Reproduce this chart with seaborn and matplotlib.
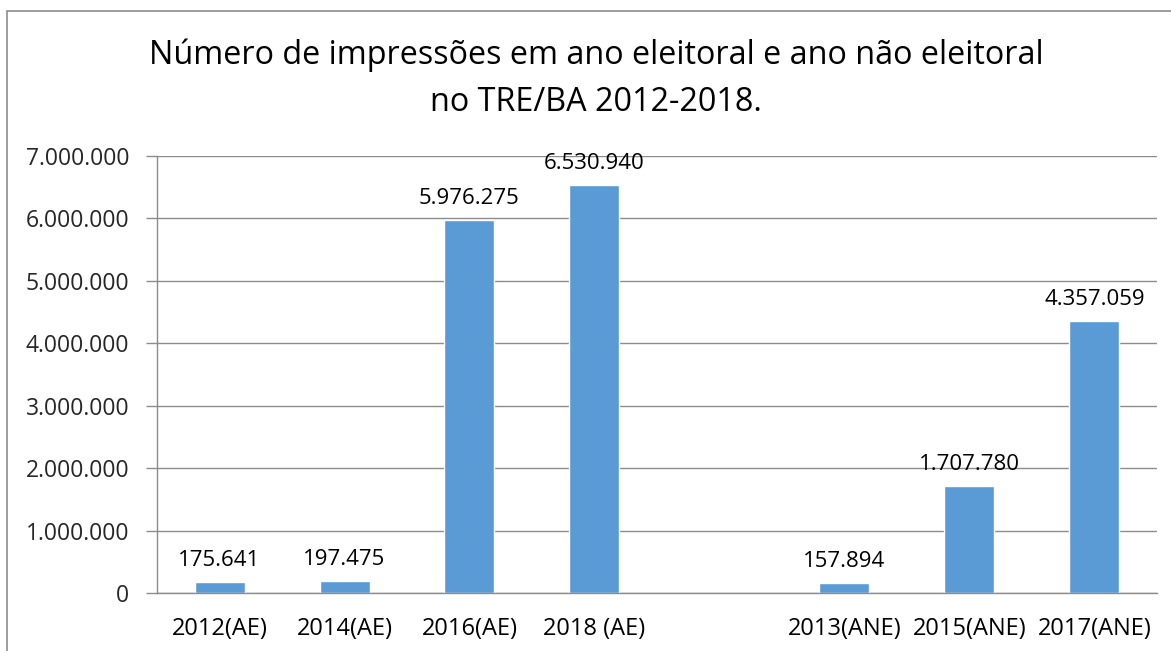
import matplotlib
matplotlib.use("Agg")
import matplotlib.pyplot as plt
import seaborn as sns
import numpy as np
import pandas as pd
from matplotlib.patches import Rectangle
from matplotlib.ticker import FuncFormatter, FixedLocator

# dados (AE = ano eleitoral, ANE = ano não eleitoral)
categorias = ["2012(AE)", "2014(AE)", "2016(AE)", "2018 (AE)", " ",
              "2013(ANE)", "2015(ANE)", "2017(ANE)"]
impressoes = [175641, 197475, 5976275, 6530940, np.nan,
              157894, 1707780, 4357059]
titulo = "Número de impressões em ano eleitoral e ano não eleitoral\nno TRE/BA 2012-2018."

cor_barra = "#5B9BD5"
cor_grade = "#8C8C8C"


def fmt_br(v):
    # separador de milhar com ponto
    return f"{int(round(v)):,}".replace(",", ".")


sns.set_theme(style="white")
plt.rcParams['font.family'] = ['Open Sans', 'DejaVu Sans']

df = pd.DataFrame({"ano": categorias, "valor": impressoes})

fig = plt.figure(figsize=(11.71, 6.51), dpi=100)
ax = fig.add_axes([157 / 1171, 1 - 593 / 651, 1000 / 1171, 437 / 651])

sns.barplot(data=df, x="ano", y="valor", order=categorias, color=cor_barra,
            width=0.4, saturation=1, ax=ax)

ax.set_xlim(-0.5, len(categorias) - 0.5)
ax.set_ylim(0, 7000000)
ax.set_yticks(np.arange(0, 7000001, 1000000))
ax.yaxis.set_major_formatter(FuncFormatter(lambda v, p: fmt_br(v)))
ax.grid(axis="y", color=cor_grade, linewidth=1)
ax.set_axisbelow(True)
ax.set_xlabel("")
ax.set_ylabel("")

# marcas entre as categorias
ax.xaxis.set_minor_locator(FixedLocator(np.arange(-0.5, len(categorias), 1)))
ax.tick_params(axis="x", which="major", length=0, pad=17, labelsize=17, colors="black")
ax.tick_params(axis="x", which="minor", length=8, width=1, color=cor_grade, direction="out")
ax.tick_params(axis="y", length=8, width=1, color=cor_grade, pad=12, labelsize=16.5,
               direction="out", left=True)

for lado in ["top", "right"]:
    ax.spines[lado].set_visible(False)
for lado in ["left", "bottom"]:
    ax.spines[lado].set_color(cor_grade)
    ax.spines[lado].set_linewidth(1)

# rótulos de dados
for i, v in enumerate(impressoes):
    if np.isnan(v):
        continue
    ax.annotate(fmt_br(v), (i, v), xytext=(0, 8), textcoords="offset points",
                ha="center", va="bottom", fontsize=16, color="black")

fig.text(596 / 1171, 1 - 79 / 651, titulo, ha="center", va="center",
         fontsize=23.3, linespacing=1.55, color="black")

# moldura da área do gráfico (cortada na direita e embaixo)
fig.patches.append(Rectangle((7 / 1171, -0.1), 1.2, 1 - 11 / 651 + 0.1,
                             transform=fig.transFigure, fill=False,
                             edgecolor=cor_grade, linewidth=1.2))

fig.savefig("out.png", dpi=100, facecolor="white")
